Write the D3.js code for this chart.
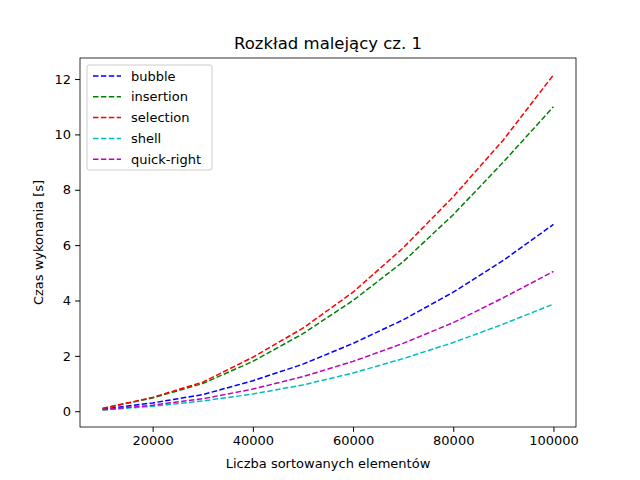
<!DOCTYPE html>
<html><head><meta charset="utf-8">
<script src="https://cdn.jsdelivr.net/npm/d3@7"></script>
<style>body{margin:0;background:#fff}text{font-family:"DejaVu Sans",sans-serif}</style>
</head><body><div id="chart"></div>
<script>
const sizes = [10000, 20000, 30000, 40000, 50000, 60000, 70000, 80000, 90000, 100000];
const bubble = [0.07, 0.3, 0.6, 1.1, 1.7, 2.45, 3.3, 4.3, 5.45, 6.75];
const insertion = [0.1, 0.48, 1.0, 1.8, 2.8, 4.0, 5.4, 7.1, 9.0, 11.0];
const selection = [0.1, 0.5, 1.05, 1.95, 3.0, 4.3, 5.9, 7.75, 9.8, 12.15];
const shell = [0.04, 0.18, 0.37, 0.62, 0.95, 1.38, 1.9, 2.48, 3.15, 3.87];
const quickRight = [0.05, 0.22, 0.45, 0.8, 1.25, 1.8, 2.45, 3.2, 4.1, 5.05];
const series = [
  {name: 'bubble', values: bubble, color: '#0000ff'},
  {name: 'insertion', values: insertion, color: '#008000'},
  {name: 'selection', values: selection, color: '#ff0000'},
  {name: 'shell', values: shell, color: '#00bfbf'},
  {name: 'quick-right', values: quickRight, color: '#bf00bf'}
];

const width = 640, height = 480;
const margin = {top: 58, right: 64, bottom: 53, left: 80};
const svg = d3.select('#chart').append('svg').attr('width', width).attr('height', height);

const x = d3.scaleLinear().domain([5500, 104500]).range([margin.left, width - margin.right]);
const y = d3.scaleLinear().domain([-0.57, 12.76]).range([height - margin.bottom, margin.top]);

svg.append('g').attr('transform', `translate(0,${height - margin.bottom})`)
  .call(d3.axisBottom(x).tickValues([20000, 40000, 60000, 80000, 100000]).tickFormat(d3.format('d')).tickSizeOuter(0).tickSize(4.9).tickPadding(4))
  .call(g => g.selectAll('text').attr('font-size', 13).attr('fill', '#000'));
svg.append('g').attr('transform', `translate(${margin.left},0)`)
  .call(d3.axisLeft(y).tickValues([0, 2, 4, 6, 8, 10, 12]).tickSizeOuter(0).tickSize(4.9).tickPadding(4))
  .call(g => g.selectAll('text').attr('font-size', 13).attr('fill', '#000'));
svg.selectAll('.domain').remove();
svg.append('rect').attr('x', margin.left).attr('y', margin.top)
  .attr('width', width - margin.left - margin.right).attr('height', height - margin.top - margin.bottom)
  .attr('fill', 'none').attr('stroke', '#000').attr('stroke-width', 0.8);

const line = d3.line().x((d, i) => x(sizes[i])).y(d => y(d));
series.forEach(s => {
  svg.append('path').datum(s.values).attr('d', line).attr('fill', 'none')
    .attr('stroke', s.color).attr('stroke-width', 1.5).attr('stroke-dasharray', '5.5,2.4');
});

svg.append('text').attr('x', (margin.left + width - margin.right) / 2).attr('y', 49)
  .attr('text-anchor', 'middle').attr('font-size', 16.5).text('Rozkład malejący cz. 1');
svg.append('text').attr('x', (margin.left + width - margin.right) / 2).attr('y', 468)
  .attr('text-anchor', 'middle').attr('font-size', 13).text('Liczba sortowanych elementów');
svg.append('text').attr('transform', `translate(43,${(margin.top + height - margin.bottom) / 2}) rotate(-90)`)
  .attr('text-anchor', 'middle').attr('font-size', 13).text('Czas wykonania [s]');

const lg = svg.append('g').attr('transform', 'translate(87,65)');
lg.append('rect').attr('width', 125).attr('height', 105).attr('rx', 2)
  .attr('fill', '#fff').attr('fill-opacity', 0.8).attr('stroke', '#ccc');
series.forEach((s, i) => {
  const yy = 11 + i * 20.8;
  lg.append('line').attr('x1', 6).attr('x2', 34).attr('y1', yy).attr('y2', yy)
    .attr('stroke', s.color).attr('stroke-width', 1.5).attr('stroke-dasharray', '5.5,2.4');
  lg.append('text').attr('x', 44).attr('y', yy + 4.5).attr('font-size', 13).text(s.name);
});
</script></body></html>
